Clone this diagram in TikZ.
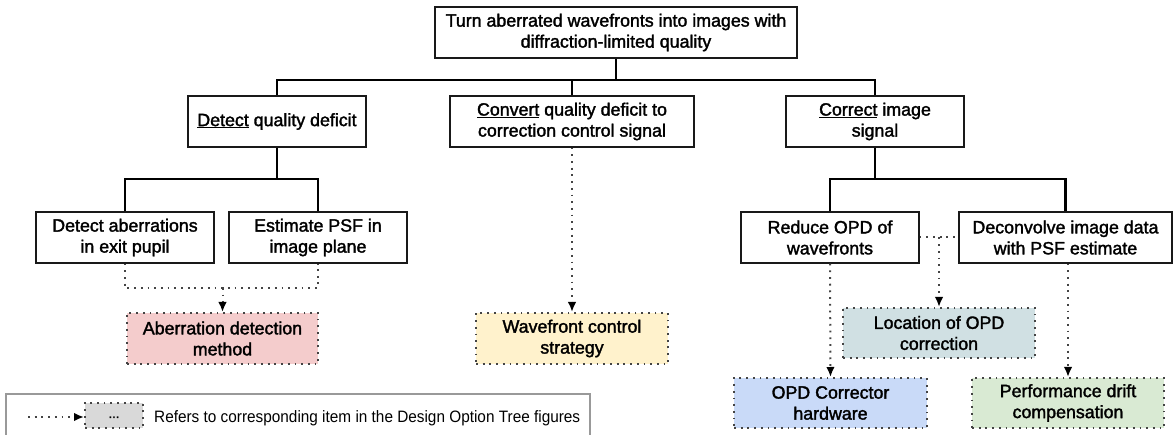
\documentclass[tikz,border=0pt]{standalone}
\usepackage{fontspec}
\setmainfont{Liberation Sans}
\newfontfamily\medfont{Liberation Sans}[FakeBold=1.8]
\usetikzlibrary{arrows.meta}
\definecolor{cpink}{HTML}{F4CCCC}
\definecolor{cyellow}{HTML}{FFF2CC}
\definecolor{cteal}{HTML}{D0E0E3}
\definecolor{cblue}{HTML}{C9DAF8}
\definecolor{cgreen}{HTML}{D9EAD3}
\definecolor{cgray}{HTML}{D9D9D9}
\definecolor{dotcol}{HTML}{444444}
\definecolor{framecol}{HTML}{999999}
\tikzset{
  box/.style={draw=black!90, line width=1.3pt, align=center, inner sep=0pt,
    font=\medfont\fontsize{17.8}{21}\selectfont},
  refbox/.style={draw=dotcol, line width=2pt, dash pattern=on 1.8pt off 4.9pt,
    align=center, inner sep=0pt, font=\medfont\fontsize{17.8}{21}\selectfont},
  tree/.style={line width=2.4pt, black},
  dotline/.style={draw=dotcol, line width=2pt, dash pattern=on 1.8pt off 4.9pt},
  dotarrow/.style={dotline, -{Latex[length=10pt,width=8.5pt,black,fill=black]}},
}
\begin{document}
\begin{tikzpicture}[x=1pt,y=-1pt]
\useasboundingbox (0,0) rectangle (1173,435);
% level 1
\node[box, minimum width=362pt, minimum height=51pt] (top) at (616,32.5) {Turn aberrated wavefronts into images with\\diffraction-limited quality};
% level 2
\node[box, minimum width=178pt, minimum height=51pt] (detect) at (277,121.5) {\underline{Detect} quality deficit};
\node[box, minimum width=244pt, minimum height=51pt] (convert) at (572,121.5) {\underline{Convert} quality deficit to\\correction control signal};
\node[box, minimum width=178pt, minimum height=51pt] (correct) at (875,121.5) {\underline{Correct} image\\signal};
% level 3
\node[box, minimum width=178pt, minimum height=51pt] (detab) at (125,237.5) {Detect aberrations\\in exit pupil};
\node[box, minimum width=178pt, minimum height=51pt] (estpsf) at (318,237.5) {Estimate PSF in\\image plane};
\node[box, minimum width=178pt, minimum height=51pt] (reduce) at (830,237.5) {Reduce OPD of\\wavefronts};
\node[box, minimum width=213pt, minimum height=51pt] (deconv) at (1065.5,237.5) {Deconvolve image data\\with PSF estimate};
% reference boxes
\node[refbox, fill=cpink, minimum width=191pt, minimum height=51pt] (aberr) at (222.5,338.5) {Aberration detection\\method};
\node[refbox, fill=cyellow, minimum width=192pt, minimum height=51pt] (wave) at (572,338.5) {Wavefront control\\strategy};
\node[refbox, fill=cteal, minimum width=192pt, minimum height=50pt] (loc) at (939,333) {Location of OPD\\correction};
\node[refbox, fill=cblue, minimum width=193pt, minimum height=50pt] (opdc) at (830.5,403) {OPD Corrector\\hardware};
\node[refbox, fill=cgreen, minimum width=192pt, minimum height=50pt] (perf) at (1068,403) {Performance drift\\compensation};
% tree connectors
\coordinate (b1) at (616,80);
\coordinate (b2) at (277,179);
\coordinate (b3) at (875,179);
\draw[tree] (top.south) -- (b1) -| (detect.north);
\draw[tree] (b1) -| (correct.north);
\draw[tree] (convert.north) -- (convert.north |- b1);
\draw[tree] (detect.south) -- (b2);
\draw[tree] (detab.north) |- (b2) -| (estpsf.north);
\draw[tree] (correct.south) -- (b3);
\draw[tree] (reduce.north) |- (b3) -| (deconv.north);
% dotted references
\coordinate (m1) at (222.5,288);
\draw[dotline] (detab.south) |- (m1) -| (estpsf.south);
\draw[dotarrow] (m1) -- (aberr.north);
\draw[dotarrow] (convert.south) -- (wave.north);
\draw[dotline] (reduce.east) -- (deconv.west);
\coordinate (m2) at (939,237.5);
\draw[dotarrow] (m2) -- (loc.north);
\draw[dotarrow] (reduce.south) -- (opdc.north);
\draw[dotarrow] (deconv.south -| perf.north) -- (perf.north);
% legend
\draw[framecol, line width=1.2pt] (6,437) -- (6,394) -- (590,394) -- (590,437);
\node[refbox, fill=cgray, minimum width=58pt, minimum height=25pt, font=\medfont\fontsize{13}{15}\selectfont] (lbox) at (114,415.5) {\raisebox{-5pt}{...}};
\coordinate (la) at (28,417);
\draw[dotarrow] (la) -- (lbox.west |- la);
\node[anchor=west, inner sep=0pt, font=\fontsize{16.5}{20}\selectfont] (ltxt) at (154,418) {\resizebox{426pt}{\height}{Refers to corresponding item in the Design Option Tree figures}};
\end{tikzpicture}
\end{document}
